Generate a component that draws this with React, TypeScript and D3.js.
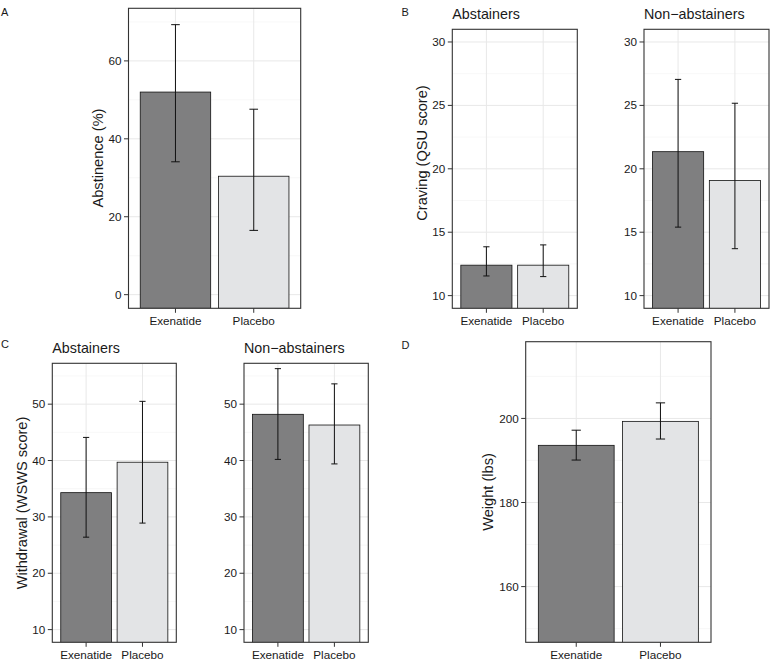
import React from "react";
import * as d3 from "d3";

// ---------- Data ----------
const groups = ["Exenatide", "Placebo"];

const abstinenceMean = [52.0, 30.4];
const abstinenceLow = [34.1, 16.5];
const abstinenceHigh = [69.3, 47.6];
const abstinenceTicks = [0, 20, 40, 60];

const cravingAbstainersMean = [12.4, 12.4];
const cravingAbstainersLow = [11.55, 11.5];
const cravingAbstainersHigh = [13.85, 14.0];
const cravingNonMean = [21.35, 19.08];
const cravingNonLow = [15.4, 13.7];
const cravingNonHigh = [27.05, 25.17];
const cravingTicks = [10, 15, 20, 25, 30];

const withdrawalAbstainersMean = [34.3, 39.7];
const withdrawalAbstainersLow = [26.4, 28.9];
const withdrawalAbstainersHigh = [44.1, 50.5];
const withdrawalNonMean = [48.2, 46.3];
const withdrawalNonLow = [40.2, 39.4];
const withdrawalNonHigh = [56.3, 53.6];
const withdrawalTicks = [10, 20, 30, 40, 50];

const weightMean = [193.6, 199.3];
const weightLow = [190.1, 195.1];
const weightHigh = [197.2, 203.7];
const weightTicks = [160, 180, 200];

const fills = ["#7f7f80", "#e3e4e6"];
const FONT = "'Liberation Sans', Arial, Helvetica, sans-serif";
const TXT = "#1a1a1a";

type PanelProps = {
  id: string;
  x0: number; x1: number; y0: number; y1: number;
  limits: [number, number];
  ticks: number[];
  mean: number[]; low: number[]; high: number[];
  title?: string;
};

function Panel(p: PanelProps) {
  const lo = p.limits[0], hi = p.limits[1];
  const pad = (hi - lo) * 0.05;
  const y = d3.scaleLinear().domain([lo - pad, hi + pad]).range([p.y1, p.y0]);
  const unit = (p.x1 - p.x0) / 2.2;
  const x = d3.scaleBand<string>().domain(groups).range([p.x0 + 0.1 * unit, p.x1 - 0.1 * unit]).paddingInner(0).paddingOuter(0);
  const bw = x.bandwidth();
  const barW = bw * 0.9;
  const capW = unit * 0.11;
  const step = ticks_step(p.ticks);
  const minor: number[] = [];
  for (let v = p.ticks[0] - step / 2; v <= hi + pad; v += step) {
    if (v >= lo - pad) minor.push(v);
  }
  const clipId = "clip-" + p.id;
  return (
    <g>
      <defs>
        <clipPath id={clipId}>
          <rect x={p.x0} y={p.y0} width={p.x1 - p.x0} height={p.y1 - p.y0} />
        </clipPath>
      </defs>
      <rect x={p.x0} y={p.y0} width={p.x1 - p.x0} height={p.y1 - p.y0} fill="#ffffff" />
      <g clipPath={`url(#${clipId})`}>
        {minor.map((v) => (
          <line key={"mi" + v} x1={p.x0} x2={p.x1} y1={y(v)} y2={y(v)} stroke="#f2f2f2" strokeWidth={0.6} />
        ))}
        {p.ticks.map((v) => (
          <line key={"ma" + v} x1={p.x0} x2={p.x1} y1={y(v)} y2={y(v)} stroke="#e8e8e8" strokeWidth={1} />
        ))}
        {groups.map((g) => (
          <line key={"vg" + g} x1={x(g)! + bw / 2} x2={x(g)! + bw / 2} y1={p.y0} y2={p.y1} stroke="#e8e8e8" strokeWidth={1} />
        ))}
        {groups.map((g, i) => (
          <rect key={"b" + g} x={x(g)! + (bw - barW) / 2} width={barW}
            y={y(p.mean[i])} height={y(Math.min(0, lo - pad)) - y(p.mean[i])}
            fill={fills[i]} stroke="#111" strokeWidth={0.8} />
        ))}
      </g>
      {groups.map((g, i) => {
        const cx = x(g)! + bw / 2;
        return (
          <g key={"e" + g} stroke="#111" strokeWidth={1}>
            <line x1={cx} x2={cx} y1={y(p.high[i])} y2={y(p.low[i])} />
            <line x1={cx - capW / 2} x2={cx + capW / 2} y1={y(p.high[i])} y2={y(p.high[i])} />
            <line x1={cx - capW / 2} x2={cx + capW / 2} y1={y(p.low[i])} y2={y(p.low[i])} />
          </g>
        );
      })}
      <rect x={p.x0} y={p.y0} width={p.x1 - p.x0} height={p.y1 - p.y0} fill="none" stroke="#333" strokeWidth={1.1} />
      {p.ticks.map((v) => (
        <g key={"yt" + v}>
          <line x1={p.x0 - 4.5} x2={p.x0} y1={y(v)} y2={y(v)} stroke="#333" strokeWidth={1} />
          <text x={p.x0 - 7} y={y(v)} dy="0.35em" textAnchor="end" fontSize={11.7} fill={TXT} fontFamily={FONT}>{v}</text>
        </g>
      ))}
      {groups.map((g) => {
        const cx = x(g)! + bw / 2;
        return (
          <g key={"xt" + g}>
            <line x1={cx} x2={cx} y1={p.y1} y2={p.y1 + 4.5} stroke="#333" strokeWidth={1} />
            <text x={cx} y={p.y1 + 16.2} textAnchor="middle" fontSize={11.7} fill={TXT} fontFamily={FONT}>{g}</text>
          </g>
        );
      })}
      {p.title && (
        <text x={p.x0} y={p.y0 - 10.5} fontSize={14.3} fill={TXT} fontFamily={FONT}>{p.title}</text>
      )}
    </g>
  );
}

function ticks_step(t: number[]) {
  return t.length > 1 ? t[1] - t[0] : 1;
}

function YTitle({ x, y, text }: { x: number; y: number; text: string }) {
  return (
    <text transform={`translate(${x},${y}) rotate(-90)`} dy="0.35em" textAnchor="middle"
      fontSize={14.6} fill={TXT} fontFamily={FONT}>{text}</text>
  );
}

function Tag({ x, y, text }: { x: number; y: number; text: string }) {
  return <text x={x} y={y} fontSize={11} fill={TXT} fontFamily={FONT}>{text}</text>;
}

export default function App() {
  return (
    <div style={{ position: "absolute", left: 0, top: 0 }}>
      <svg width={777} height={668} style={{ display: "block", background: "#ffffff" }}>
        {/* Panel A */}
        <Tag x={1} y={15.5} text="A" />
        <YTitle x={98} y={158} text="Abstinence (%)" />
        <Panel id="a" x0={128.5} x1={300.7} y0={8.3} y1={308.3} limits={[0, 70]} ticks={abstinenceTicks}
          mean={abstinenceMean} low={abstinenceLow} high={abstinenceHigh} />

        {/* Panel B */}
        <Tag x={401.5} y={15.5} text="B" />
        <YTitle x={421.7} y={153} text="Craving (QSU score)" />
        <Panel id="b1" x0={452.3} x1={577.3} y0={29.3} y1={308.3} limits={[10, 30]} ticks={cravingTicks}
          mean={cravingAbstainersMean} low={cravingAbstainersLow} high={cravingAbstainersHigh} title="Abstainers" />
        <Panel id="b2" x0={644} x1={769} y0={29.3} y1={308.3} limits={[10, 30]} ticks={cravingTicks}
          mean={cravingNonMean} low={cravingNonLow} high={cravingNonHigh} title="Non−abstainers" />

        {/* Panel C */}
        <Tag x={1} y={348} text="C" />
        <YTitle x={22} y={503} text="Withdrawal (WSWS score)" />
        <Panel id="c1" x0={52.3} x1={176.3} y0={363.3} y1={642.3} limits={[10, 55]} ticks={withdrawalTicks}
          mean={withdrawalAbstainersMean} low={withdrawalAbstainersLow} high={withdrawalAbstainersHigh} title="Abstainers" />
        <Panel id="c2" x0={244} x1={368.3} y0={363.3} y1={642.3} limits={[10, 55]} ticks={withdrawalTicks}
          mean={withdrawalNonMean} low={withdrawalNonLow} high={withdrawalNonHigh} title="Non−abstainers" />

        {/* Panel D */}
        <Tag x={401.5} y={348.5} text="D" />
        <YTitle x={488.3} y={492} text="Weight (lbs)" />
        <Panel id="d" x0={525.7} x1={711} y0={341.7} y1={642.3} limits={[150, 215]} ticks={weightTicks}
          mean={weightMean} low={weightLow} high={weightHigh} />
      </svg>
    </div>
  );
}
